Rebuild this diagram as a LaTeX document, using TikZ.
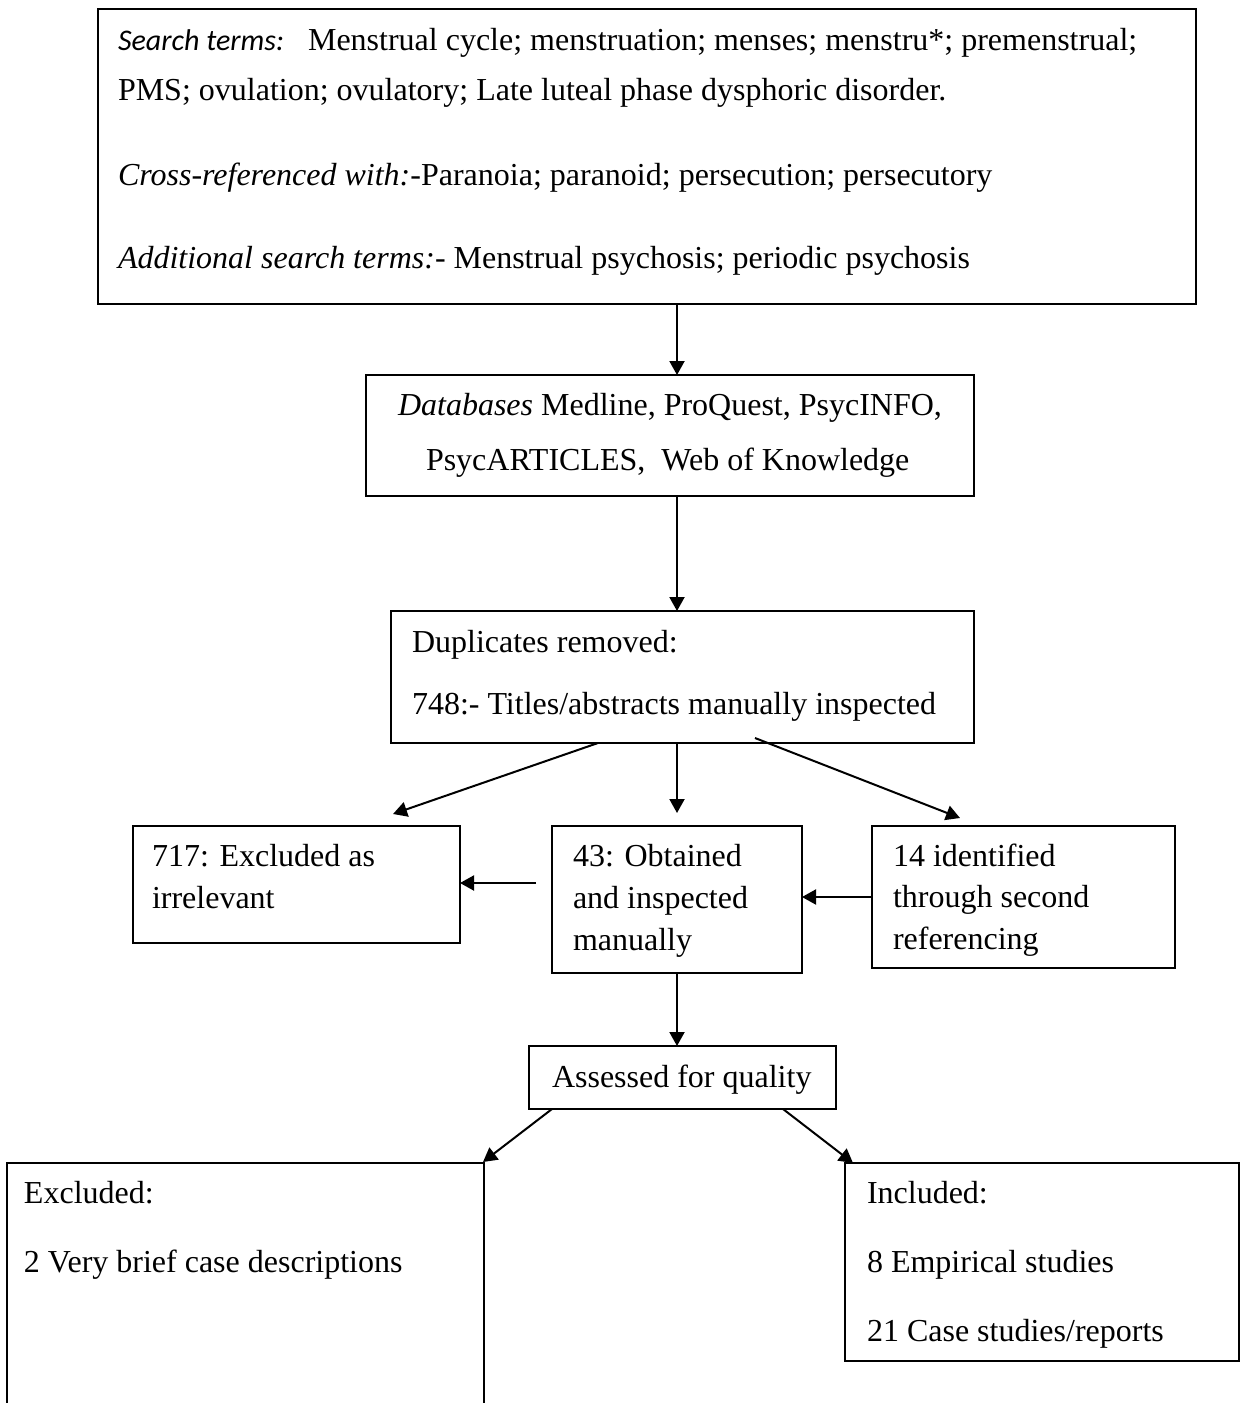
\documentclass[tikz,border=0pt]{standalone}
\usepackage{fontspec}
\setmainfont{Liberation Serif}
\newfontfamily\calibri{Carlito}
\usetikzlibrary{arrows.meta}
\begin{document}
\begin{tikzpicture}[x=0.5pt,y=-0.5pt,
  box/.style={draw, line width=1pt, rectangle, inner sep=0pt, outer sep=0pt},
  openbox/.style={rectangle, inner sep=0pt, outer sep=0pt},
  txt/.style={anchor=base west, inner sep=0pt, outer sep=0pt, font=\fontsize{16}{19}\selectfont},
  arr/.style={line width=1pt, -{Triangle[length=7pt,width=7.5pt]}}]
\useasboundingbox (0,0) rectangle (1242,1403);
\fill[white] (0,0) rectangle (1242,1403);

% boxes
\node[box, minimum width=549pt, minimum height=147.5pt] (top) at (647,156.5) {};
\node[box, minimum width=304pt, minimum height=60.5pt] (db) at (670,435.5) {};
\node[box, minimum width=291.5pt, minimum height=66pt] (dup) at (682.5,677) {};
\node[box, minimum width=163.5pt, minimum height=58.5pt] (irr) at (296.5,884.5) {};
\node[box, minimum width=125pt, minimum height=73.5pt] (obt) at (677,899.5) {};
\node[box, minimum width=151.5pt, minimum height=71pt] (sec) at (1023.5,897) {};
\node[box, minimum width=153.5pt, minimum height=31.5pt] (qual) at (682.5,1077.5) {};
\node[openbox, minimum width=238.5pt, minimum height=120pt] (exc) at (245.5,1283) {};
\draw[line width=1pt] (exc.south west) |- (exc.north east) -- (exc.south east);
\node[box, minimum width=197pt, minimum height=99pt] (inc) at (1042,1262) {};

% texts
\node[txt] (t1) at (118,50) {{\fontsize{15}{18}\selectfont\calibri\itshape Search terms:}\hspace{0.75em}Menstrual cycle; menstruation; menses; menstru*; premenstrual;};
\node[txt] (t2) at (118,100) {PMS; ovulation; ovulatory; Late luteal phase dysphoric disorder.};
\node[txt] (t3) at (118,185) {\textit{Cross-referenced with:}-Paranoia; paranoid; persecution; persecutory};
\node[txt] (t4) at (118,268) {\textit{Additional search terms:}- Menstrual psychosis; periodic psychosis};

\node[txt] (d1) at (398,415) {\textit{Databases} Medline, ProQuest, PsycINFO,};
\node[txt] (d2) at (426,470) {PsycARTICLES,\ \ Web of Knowledge};

\node[txt] (u1) at (412,652) {Duplicates removed:};
\node[txt] (u2) at (412,714) {748:- Titles/abstracts manually inspected};

\node[txt] (i1) at (152,866) {717: Excluded as};
\node[txt] (i2) at (152,908) {irrelevant};

\node[txt] (o1) at (573,866) {43: Obtained};
\node[txt] (o2) at (573,908) {and inspected};
\node[txt] (o3) at (573,950) {manually};

\node[txt] (s1) at (893,866) {14 identified};
\node[txt] (s2) at (893,907) {through second};
\node[txt] (s3) at (893,949) {referencing};

\node[txt] (q1) at (552,1087) {Assessed for quality};

\node[txt] (e1) at (24,1203) {Excluded:};
\node[txt] (e2) at (24,1272) {2 Very brief case descriptions};

\node[txt] (n1) at (867,1203) {Included:};
\node[txt] (n2) at (867,1272) {8 Empirical studies};
\node[txt] (n3) at (867,1341) {21 Case studies/reports};

% connector end points
\coordinate (ax) at (677,0);
\coordinate (dupL) at (598,743);
\coordinate (irrT) at (393,814);
\coordinate (obtT) at (677,813);
\coordinate (dupR) at (755,738);
\coordinate (secT) at (960,818);
\coordinate (obtL) at (536,883);
\coordinate (qualL) at (552,1109);
\coordinate (excT) at (483,1162);
\coordinate (qualR) at (783,1109);
\coordinate (incT) at (853,1163);

% connectors
\draw[arr] (top.south -| ax) -- (db.north -| ax);
\draw[arr] (db.south -| ax) -- (dup.north -| ax);
\draw[arr] (dupL) -- (irrT);
\draw[arr] (dup.south -| ax) -- (obtT);
\draw[arr] (dupR) -- (secT);
\draw[arr] (obtL) -- (obtL -| irr.east);
\draw[arr] (sec.west |- 0,897) -- (obt.east |- 0,897);
\draw[arr] (obt.south) -- (qual.north -| obt.south);
\draw[arr] (qualL) -- (excT);
\draw[arr] (qualR) -- (incT);
\end{tikzpicture}
\end{document}
